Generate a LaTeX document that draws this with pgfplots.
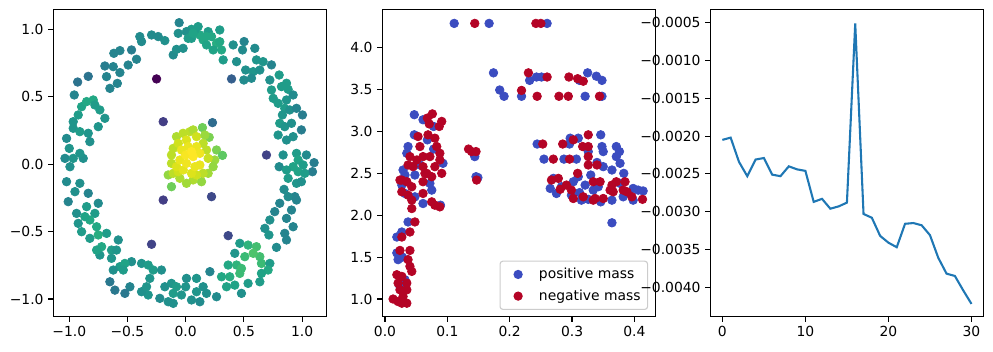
\documentclass[border=0pt]{standalone}
\usepackage{fontspec}
\setmainfont{DejaVu Sans}
\usepackage{pgfplots}
\usepackage{pgfplotstable}
\pgfplotsset{compat=1.18}
\definecolor{cblue}{HTML}{3B4CC0}
\definecolor{cred}{HTML}{B40426}
\definecolor{mplblue}{HTML}{1F77B4}
\definecolor{legframe}{HTML}{CCCCCC}

\pgfplotstableread{
x y c
-0.056 1.049 0.45
0.107 1.020 0.55
0.050 1.000 0.55
0.007 0.983 0.5
0.193 0.983 0.55
0.293 0.995 0.55
0.222 0.946 0.6
0.122 0.958 0.6
0.050 0.933 0.55
0.150 0.921 0.6
0.265 0.896 0.62
0.308 0.847 0.6
0.293 0.908 0.6
0.179 0.884 0.58
0.236 0.847 0.58
0.322 0.773 0.55
0.408 0.884 0.5
0.502 0.909 0.45
0.488 0.847 0.48
0.594 0.859 0.48
0.437 0.760 0.5
0.515 0.698 0.5
0.580 0.686 0.52
0.608 0.773 0.52
0.665 0.760 0.52
0.637 0.698 0.5
0.565 0.637 0.48
0.500 0.624 0.48
0.394 0.632 0.3
0.737 0.736 0.45
0.723 0.624 0.5
0.803 0.661 0.55
0.866 0.600 0.55
0.880 0.555 0.55
0.823 0.575 0.55
0.737 0.550 0.55
0.752 0.488 0.55
0.794 0.451 0.55
0.866 0.476 0.52
0.923 0.513 0.48
0.851 0.414 0.55
0.894 0.402 0.5
0.952 0.414 0.45
1.003 0.365 0.42
0.831 0.365 0.52
0.808 0.303 0.55
0.851 0.278 0.52
0.909 0.303 0.5
0.994 0.254 0.42
0.794 0.216 0.52
0.866 0.179 0.5
0.923 0.204 0.5
0.837 0.068 0.5
0.952 0.080 0.55
1.037 0.068 0.48
0.966 0.031 0.58
1.009 -0.006 0.55
1.103 0.011 0.42
1.089 -0.056 0.42
0.923 -0.019 0.58
0.966 -0.056 0.58
1.023 -0.068 0.55
0.880 -0.105 0.55
0.803 -0.019 0.48
0.866 -0.043 0.55
0.952 -0.142 0.52
0.994 -0.130 0.5
0.845 -0.187 0.48
0.938 -0.241 0.45
0.880 -0.241 0.48
0.952 -0.266 0.45
0.808 -0.290 0.45
0.909 -0.340 0.45
0.765 -0.352 0.45
0.723 -0.414 0.5
0.866 -0.402 0.45
0.923 -0.464 0.45
0.851 -0.513 0.45
0.780 -0.617 0.48
0.680 -0.476 0.5
0.715 -0.525 0.52
0.866 -0.562 0.45
0.694 0.068 0.2
0.230 0.308 0.35
-0.193 0.315 0.18
-0.250 0.632 0.0
-0.193 -0.266 0.18
0.222 -0.241 0.22
0.365 -0.530 0.22
-0.293 -0.594 0.2
0.465 -0.587 0.55
0.536 -0.600 0.65
0.508 -0.686 0.68
0.608 -0.612 0.7
0.637 -0.686 0.7
0.580 -0.661 0.72
0.651 -0.736 0.68
0.723 -0.736 0.55
0.708 -0.785 0.6
0.651 -0.810 0.58
0.637 -0.872 0.55
0.536 -0.884 0.55
0.465 -0.810 0.68
0.422 -0.661 0.52
0.365 -0.748 0.6
0.437 -0.748 0.65
0.479 -0.773 0.68
0.379 -0.835 0.62
0.308 -0.835 0.6
0.351 -0.909 0.58
0.422 -0.897 0.58
0.479 -0.958 0.5
0.208 -0.797 0.45
0.265 -0.983 0.48
0.179 -0.958 0.5
0.150 -0.909 0.5
0.093 -0.847 0.52
0.007 -0.847 0.5
0.093 -0.946 0.52
0.050 -1.007 0.5
0.122 -1.020 0.48
0.000 -0.909 0.52
-0.036 -0.970 0.52
-0.107 -0.958 0.55
-0.179 -0.909 0.5
-0.122 -0.884 0.52
-0.079 -0.909 0.55
-0.150 -1.020 0.5
-0.107 -1.032 0.5
-0.222 -0.995 0.48
-0.322 -0.970 0.52
-0.379 -0.946 0.5
-0.336 -0.909 0.52
-0.308 -0.847 0.52
-0.279 -0.785 0.55
-0.208 -0.785 0.5
-0.379 -0.736 0.52
-0.322 -0.748 0.55
-0.465 -0.723 0.5
-0.479 -0.909 0.45
-0.522 -0.958 0.4
-0.608 -0.934 0.4
-0.651 -0.872 0.4
-0.565 -0.760 0.55
-0.522 -0.736 0.58
-0.536 -0.785 0.55
-0.622 -0.785 0.5
-0.579 -0.562 0.5
-0.637 -0.637 0.55
-0.594 -0.637 0.52
-0.637 -0.698 0.52
-0.737 -0.674 0.52
-0.722 -0.612 0.6
-0.765 -0.637 0.58
-0.679 -0.513 0.55
-0.751 -0.525 0.62
-0.823 -0.550 0.55
-0.894 -0.501 0.55
-0.923 -0.439 0.52
-0.937 -0.365 0.5
-0.851 -0.315 0.55
-0.780 -0.365 0.55
-0.751 -0.290 0.48
-0.837 -0.216 0.45
-0.823 -0.414 0.6
-0.765 -0.464 0.6
-0.866 -0.389 0.58
-1.009 -0.278 0.45
-0.951 -0.204 0.5
-1.023 -0.130 0.48
-0.909 -0.142 0.5
-0.994 -0.019 0.5
-1.037 0.043 0.48
-0.966 0.043 0.52
-0.880 0.043 0.5
-0.909 0.080 0.52
-1.000 0.117 0.52
-1.023 0.191 0.48
-0.966 0.266 0.52
-0.909 0.241 0.55
-0.837 0.229 0.52
-0.966 0.315 0.52
-0.923 0.365 0.55
-0.894 0.426 0.58
-0.851 0.464 0.6
-0.794 0.476 0.6
-0.780 0.439 0.55
-0.737 0.402 0.55
-0.694 0.340 0.52
-0.751 0.278 0.52
-0.823 0.167 0.5
-0.957 0.513 0.45
-0.928 0.609 0.38
-0.837 0.651 0.38
-0.651 0.562 0.45
-0.680 0.649 0.45
-0.694 0.728 0.42
-0.622 0.723 0.45
-0.565 0.679 0.45
-0.587 0.599 0.45
-0.617 0.822 0.45
-0.565 0.842 0.45
-0.465 0.847 0.42
-0.422 0.778 0.45
-0.494 0.735 0.45
-0.394 0.946 0.48
-0.379 0.909 0.48
-0.293 0.958 0.48
-0.236 0.946 0.48
-0.179 0.916 0.5
-0.107 0.810 0.48
-0.079 0.851 0.5
-0.022 0.859 0.5
-0.064 0.970 0.5
0.021 0.933 0.55
0.079 0.995 0.55
0.064 0.970 0.58
0.179 0.946 0.6
-0.079 0.204 0.88
-0.022 0.229 0.9
0.036 0.241 0.9
0.064 0.254 0.88
0.144 0.271 0.78
0.202 0.199 0.8
0.265 0.105 0.8
0.316 0.065 0.75
0.250 0.031 0.85
0.236 -0.019 0.84
0.193 -0.068 0.86
0.136 -0.130 0.84
0.064 -0.117 0.88
0.007 -0.142 0.86
-0.050 -0.105 0.88
-0.122 -0.167 0.78
-0.150 -0.080 0.84
-0.122 0.006 0.9
-0.122 0.068 0.9
-0.107 0.117 0.9
-0.064 0.154 0.93
0.007 0.179 0.95
0.093 0.204 0.93
0.150 0.154 0.9
0.179 0.105 0.9
0.193 0.043 0.92
0.150 -0.068 0.9
0.093 -0.080 0.93
-0.107 -0.068 0.9
-0.064 -0.056 0.93
0.165 0.216 0.85
-0.079 -0.019 0.95
-0.021 -0.043 0.96
0.050 -0.068 0.95
0.079 -0.019 0.97
-0.050 0.031 0.97
0.007 0.006 0.98
0.122 -0.006 0.97
0.093 0.130 0.97
0.021 0.130 0.97
-0.036 0.105 0.97
0.122 0.080 0.98
0.000 0.068 0.99
0.050 0.093 1.0
0.064 0.056 1.0
}\ringdata

\pgfplotstableread{
x y
0.111 4.29
0.167 4.29
0.260 4.29
0.174 3.70
0.184 3.495
0.191 3.42
0.219 3.42
0.232 3.61
0.243 3.65
0.251 3.65
0.312 3.61
0.325 3.70
0.321 3.42
0.339 3.66
0.348 3.61
0.348 3.42
0.244 2.85
0.255 2.67
0.270 2.44
0.283 2.34
0.287 2.67
0.296 2.85
0.297 2.92
0.310 2.92
0.307 2.67
0.302 2.40
0.299 2.24
0.310 2.46
0.312 2.27
0.321 2.36
0.326 2.76
0.330 2.48
0.334 2.30
0.340 2.63
0.346 2.96
0.348 2.82
0.350 2.76
0.346 2.16
0.350 2.58
0.364 2.54
0.364 2.18
0.364 1.91
0.371 2.82
0.376 2.76
0.371 2.70
0.377 2.62
0.377 2.38
0.383 2.50
0.382 2.22
0.398 2.32
0.406 2.30
0.414 2.29
0.398 2.18
0.390 2.27
0.265 2.32
0.275 2.26
0.315 2.18
0.326 2.19
0.342 2.34
0.144 2.70
0.146 2.46
0.149 2.45
0.047 3.20
0.061 3.14
0.078 3.06
0.047 2.96
0.037 2.82
0.035 2.74
0.068 2.90
0.078 2.79
0.093 2.62
0.029 2.54
0.048 2.48
0.032 2.48
0.027 2.36
0.032 2.26
0.048 2.22
0.072 2.38
0.075 2.30
0.061 2.14
0.089 2.12
0.056 2.60
0.037 1.92
0.027 1.80
0.019 1.74
0.019 1.55
0.021 1.47
0.028 1.50
0.024 1.15
0.032 1.23
}\posdata

\pgfplotstableread{
x y
0.144 4.29
0.242 4.29
0.250 4.29
0.219 3.49
0.230 3.70
0.260 3.65
0.244 3.42
0.279 3.42
0.294 3.42
0.295 3.65
0.318 3.60
0.309 3.63
0.344 3.42
0.253 2.85
0.270 2.67
0.278 2.44
0.281 2.31
0.285 2.85
0.296 2.67
0.302 2.90
0.317 2.82
0.299 2.30
0.309 2.50
0.318 2.22
0.326 2.82
0.326 2.70
0.326 2.60
0.334 2.40
0.337 2.20
0.340 2.60
0.326 2.96
0.345 2.40
0.350 2.20
0.361 2.30
0.364 2.36
0.371 2.40
0.382 2.30
0.385 2.40
0.388 2.28
0.396 2.22
0.413 2.19
0.366 2.28
0.267 2.42
0.291 2.36
0.302 2.20
0.334 2.18
0.134 2.79
0.139 2.76
0.146 2.76
0.147 2.42
0.068 3.16
0.076 3.21
0.071 3.09
0.091 3.12
0.087 3.06
0.053 2.94
0.056 2.82
0.069 2.96
0.080 2.92
0.083 2.82
0.088 2.74
0.088 2.66
0.091 2.50
0.072 2.70
0.061 2.70
0.051 2.66
0.040 2.70
0.037 2.60
0.045 2.58
0.061 2.58
0.064 2.50
0.075 2.46
0.080 2.58
0.027 2.42
0.035 2.40
0.043 2.34
0.037 2.24
0.043 2.18
0.043 2.08
0.061 2.40
0.061 2.26
0.075 2.16
0.080 2.12
0.088 2.10
0.067 2.50
0.024 2.42
0.027 2.28
0.048 1.92
0.040 1.80
0.027 1.74
0.024 1.58
0.040 1.58
0.037 1.47
0.040 1.39
0.043 1.33
0.019 1.29
0.027 1.27
0.035 1.19
0.021 1.19
0.024 1.11
0.035 1.11
0.029 1.03
0.013 1.00
0.021 0.97
0.035 0.95
0.027 0.95
}\negdata

\pgfplotstableread{
x y
0 -0.00205
1 -0.00202
2 -0.00234
3 -0.00253
4 -0.00231
5 -0.00229
6 -0.00251
7 -0.00253
8 -0.00240
9 -0.00244
10 -0.00246
11 -0.00287
12 -0.00283
13 -0.00296
14 -0.00293
15 -0.00288
16 -0.00051
17 -0.00303
18 -0.00308
19 -0.00332
20 -0.00341
21 -0.00347
22 -0.00316
23 -0.00315
24 -0.00318
25 -0.00331
26 -0.00361
27 -0.00382
28 -0.00385
29 -0.00404
30 -0.00422
}\linedata

\pgfplotsset{
  mplaxis/.style={
    width=196.9pt, height=221.3pt, scale only axis,
    axis line style={line width=0.8pt},
    tick align=outside, xtick pos=left, ytick pos=left,
    major tick length=3.5pt,
    tick style={line width=0.8pt, black},
    tick label style={font=\fontsize{10}{12}\selectfont},
    scaled x ticks=false, scaled y ticks=false,
    clip=true,
  }
}

\begin{document}
\begin{tikzpicture}
\path[use as bounding box] (0pt,0pt) rectangle (714.96pt,252.72pt);

\begin{axis}[mplaxis, at={(38.38pt,24.70pt)}, anchor=south west,
  xmin=-1.137, xmax=1.212, ymin=-1.131, ymax=1.148,
  xtick={-1,-0.5,0,0.5,1}, xticklabels={−1.0,−0.5,0.0,0.5,1.0},
  ytick={-1,-0.5,0,0.5,1}, yticklabels={−1.0,−0.5,0.0,0.5,1.0},
  colormap/viridis, point meta min=0, point meta max=1]
\addplot[scatter, only marks, mark=*, mark size=3.1pt,
  scatter/use mapped color={draw=mapped color, fill=mapped color, line width=0.5pt},
  point meta=explicit] table[x=x, y=y, meta=c] {\ringdata};
\end{axis}

\begin{axis}[mplaxis, at={(275.26pt,24.70pt)}, anchor=south west,
  xmin=-0.0043, xmax=0.4343, ymin=0.789, ymax=4.458,
  xtick={0,0.1,0.2,0.3,0.4}, xticklabels={0.0,0.1,0.2,0.3,0.4},
  ytick={1,1.5,2,2.5,3,3.5,4}, yticklabels={1.0,1.5,2.0,2.5,3.0,3.5,4.0},
  legend cell align=left,
  legend style={at={(0.972,0.022)}, anchor=south east, draw=legframe, line width=0.8pt,
    rounded corners=2pt, fill=white, fill opacity=0.8, text opacity=1,
    font=\fontsize{10}{12}\selectfont, row sep=2.5pt, inner xsep=3pt, inner ysep=3pt},
  legend image code/.code={\path[draw=none, fill=none, draw opacity=0, fill opacity=0]
      (0pt,-3.4pt) rectangle (23pt,3.4pt);
    \fill[#1, draw=none, fill opacity=1] (10pt,0pt) circle (3.35pt);}]
\addplot[only marks, mark=*, mark size=3.1pt, color=cblue,
  mark options={draw=cblue, fill=cblue, line width=0.5pt}] table {\posdata};
\addlegendentry{positive mass}
\addplot[only marks, mark=*, mark size=3.1pt, color=cred,
  mark options={draw=cred, fill=cred, line width=0.5pt}] table {\negdata};
\addlegendentry{negative mass}
\end{axis}

\begin{axis}[mplaxis, at={(511.42pt,24.70pt)}, anchor=south west,
  xmin=-1.45, xmax=31.48, ymin=-0.004389, ymax=-0.000323,
  xtick={0,10,20,30}, xticklabels={0,10,20,30},
  ytick={-0.004,-0.0035,-0.003,-0.0025,-0.002,-0.0015,-0.001,-0.0005},
  yticklabels={−0.0040,−0.0035,−0.0030,−0.0025,−0.0020,−0.0015,−0.0010,−0.0005}]
\addplot[mplblue, line width=1.5pt, mark=none] table {\linedata};
\end{axis}
\end{tikzpicture}
\end{document}
